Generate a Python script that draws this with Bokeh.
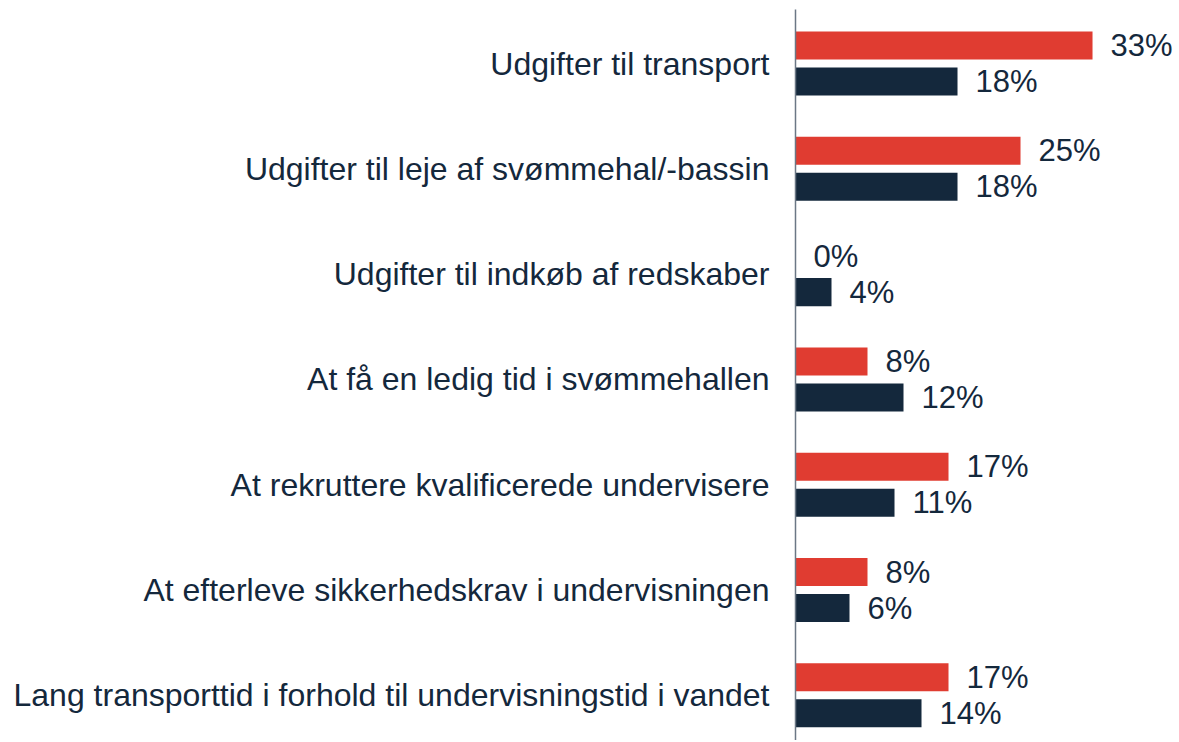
from bokeh.plotting import figure
from bokeh.models import ColumnDataSource, Range1d, FixedTicker, LabelSet
from bokeh.core.properties import value
from bokeh.embed import file_html
from bokeh.resources import INLINE

categories = [
    "Udgifter til transport",
    "Udgifter til leje af svømmehal/-bassin",
    "Udgifter til indkøb af redskaber",
    "At få en ledig tid i svømmehallen",
    "At rekruttere kvalificerede undervisere",
    "At efterleve sikkerhedskrav i undervisningen",
    "Lang transporttid i forhold til undervisningstid i vandet",
]
series_red = [33, 25, 0, 8, 17, 8, 17]
series_navy = [18, 18, 4, 12, 11, 6, 14]

RED = "#E03C31"
NAVY = "#14283C"
FONT = "Liberation Sans"

n = len(categories)
ypos = [n - 1 - i for i in range(n)]
off = 0.171
bar_h = 0.266

src_red = ColumnDataSource(dict(y=[y + off for y in ypos], v=series_red,
                                lab=[f"{v}%" for v in series_red]))
src_navy = ColumnDataSource(dict(y=[y - off for y in ypos], v=series_navy,
                                 lab=[f"{v}%" for v in series_navy]))

H = 740
TOPB = 9
top = (n - 1) + 0.513
p = figure(width=1166, height=H, output_backend="svg", toolbar_location=None,
           x_range=Range1d(0, 42.33), y_range=Range1d(top - (H - TOPB) / 105.3, top),
           min_border_left=0, min_border_right=0, min_border_top=TOPB, min_border_bottom=0)
p.margin = (0, 0, 0, 10)
p.outline_line_color = None
p.xgrid.visible = False
p.ygrid.visible = False
p.xaxis.visible = False

p.hbar(y="y", right="v", left=0, height=bar_h, source=src_red, color=RED, line_color=None)
p.hbar(y="y", right="v", left=0, height=bar_h, source=src_navy, color=NAVY, line_color=None)

for src in (src_red, src_navy):
    p.add_layout(LabelSet(x="v", y="y", text="lab", source=src, x_offset=18,
                          text_baseline="middle", text_align="left",
                          text_font=value(FONT), text_font_size="31px", text_color=NAVY))

ya = p.yaxis[0]
ya.ticker = FixedTicker(ticks=ypos)
ya.major_label_overrides = {y: c for y, c in zip(ypos, categories)}
ya.major_tick_in = 0
ya.major_tick_out = 0
ya.minor_tick_in = 0
ya.minor_tick_out = 0
ya.axis_line_color = "#6B7785"
ya.axis_line_width = 1.5
ya.major_label_standoff = 26
ya.major_label_text_font = FONT
ya.major_label_text_font_size = "32px"
ya.major_label_text_color = NAVY

open("out.html", "w").write(file_html(p, INLINE))
